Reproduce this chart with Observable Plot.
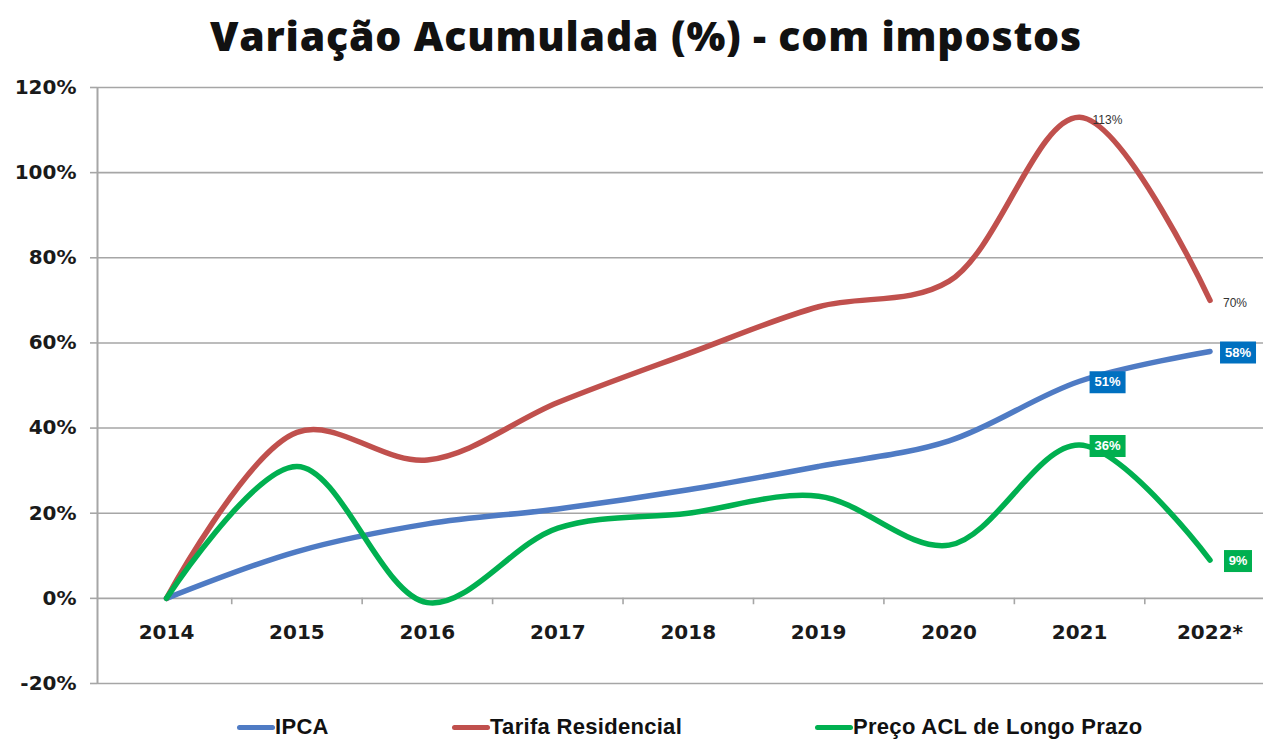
<!DOCTYPE html>
<html>
<head>
<meta charset="utf-8">
<script src="https://cdn.jsdelivr.net/npm/d3@7"></script>
<script src="https://cdn.jsdelivr.net/npm/@observablehq/plot@0.6"></script>
<style>
  html, body { margin: 0; padding: 0; background: #fff; }
  #wrap { position: relative; width: 1263px; height: 741px; overflow: hidden; }
  #title { position: absolute; left: 0; top: 0; width: 1292px; height: 70px; line-height: 70px; text-align: center;
    font-family: "Open Sans", sans-serif; font-weight: 800; font-size: 41px; color: #111; letter-spacing: 0.8px; }
  #chart { position: absolute; left: 0; top: 70px; }
  .lg { position: absolute; top: 714px; height: 26px; line-height: 26px; font-family: "Liberation Sans", sans-serif;
    font-weight: bold; font-size: 22px; color: #111; letter-spacing: 0.3px; }
  .sw { position: absolute; top: 725px; height: 5px; width: 38px; border-radius: 3px; }
</style>
</head>
<body>
<div id="wrap">
  <div id="title">Variação Acumulada (%) - com impostos</div>
  <div id="chart"></div>
  <div id="legend"></div>
</div>
<script>
const years = ["2014", "2015", "2016", "2017", "2018", "2019", "2020", "2021", "2022*"];
const ipca = [0, 11, 17.5, 21, 25.5, 31, 37, 51, 58];
const tarifa = [0, 39, 32.5, 46, 57.5, 68.5, 74.5, 113, 70];
const acl = [0, 31, -1, 16.5, 20, 24, 12.5, 36, 9];
const seriesNames = ["IPCA", "Tarifa Residencial", "Preço ACL de Longo Prazo"];
const seriesColors = ["#4F7BC4", "#C0504D", "#00B050"];
const yTicks = [-20, 0, 20, 40, 60, 80, 100, 120];

// labels shown in the chart: [series index, year index]
const plainLabels = [[1, 7], [1, 8]];
const boxLabels = [[0, 7], [0, 8], [2, 7], [2, 8]];
const boxColors = ["#0070C0", null, "#00B050"];

const allSeries = [ipca, tarifa, acl];
const rows = [];
allSeries.forEach((vals, s) => vals.forEach((v, i) => rows.push({s: seriesNames[s], i, v})));

const plain = plainLabels.map(([s, i]) => ({i, v: allSeries[s][i], label: Math.round(allSeries[s][i]) + "%"}));
const boxed = boxLabels.map(([s, i]) => ({i, v: allSeries[s][i], label: Math.round(allSeries[s][i]) + "%", color: boxColors[s]}));

const boxSymbol = {
  draw(context, size) {
    const n = Math.sqrt(size / Math.PI);
    const w = 12 + 8 * n, h = 22;
    context.rect(-w / 2, -h / 2, w, h);
  }
};

const chart = Plot.plot({
  width: 1263,
  height: 630,
  marginLeft: 97,
  marginRight: 0,
  marginTop: 17,
  marginBottom: 17,
  x: {domain: [-0.529, 8.41], axis: null},
  y: {domain: [-20, 120], axis: null},
  color: {domain: seriesNames, range: seriesColors},
  r: {type: "identity"},
  style: {background: "transparent"},
  marks: [
    Plot.ruleY(yTicks, {stroke: "#A6A6A6", strokeWidth: 1.6}),
    Plot.axisY({ticks: yTicks, tickSize: 7, tickPadding: 14, stroke: "#A6A6A6", strokeWidth: 1.6,
      tickFormat: d => d + "%", fontSize: 20, fontWeight: "bold", fill: "#1a1a1a",
      fontFamily: "DejaVu Sans", label: null}),
    Plot.ruleX([-0.529], {y1: -20, y2: 120, stroke: "#A6A6A6", strokeWidth: 2}),
    Plot.ruleX(d3.range(0.5, 8.5, 1), {y1: 0, y2: -1.5, stroke: "#A6A6A6", strokeWidth: 1.6}),
    Plot.text(years, {x: (d, i) => i, y: 0, dy: 34, text: d => d, fontSize: 20, fontWeight: "bold",
      fill: "#1a1a1a", fontFamily: "DejaVu Sans"}),
    Plot.line(rows, {x: "i", y: "v", z: "s", stroke: "s", strokeWidth: 5.5, curve: "catmull-rom",
      strokeLinecap: "round", strokeLinejoin: "round"}),
    Plot.text(plain, {x: "i", y: "v", text: "label", textAnchor: "start", dx: 13, dy: 3, fontSize: 12,
      fill: "#333", fontFamily: "Liberation Sans", letterSpacing: "-0.5px"}),
    Plot.dot(boxed, {x: "i", y: "v", r: d => d.label.length, symbol: boxSymbol, fill: "color", dx: 28, dy: 1}),
    Plot.text(boxed, {x: "i", y: "v", text: "label", dx: 28, dy: 1, fill: "white", fontSize: 13,
      fontWeight: "bold", fontFamily: "Liberation Sans", letterSpacing: "-0.5px"})
  ]
});
document.getElementById("chart").append(chart);

// legend
const legend = document.getElementById("legend");
const legendX = [237, 452, 815];
seriesNames.forEach((name, k) => {
  const sw = document.createElement("div");
  sw.className = "sw";
  sw.style.left = legendX[k] + "px";
  sw.style.background = seriesColors[k];
  legend.append(sw);
  const t = document.createElement("div");
  t.className = "lg";
  t.style.left = (legendX[k] + 38) + "px";
  t.textContent = name;
  legend.append(t);
});
</script>
</body>
</html>
